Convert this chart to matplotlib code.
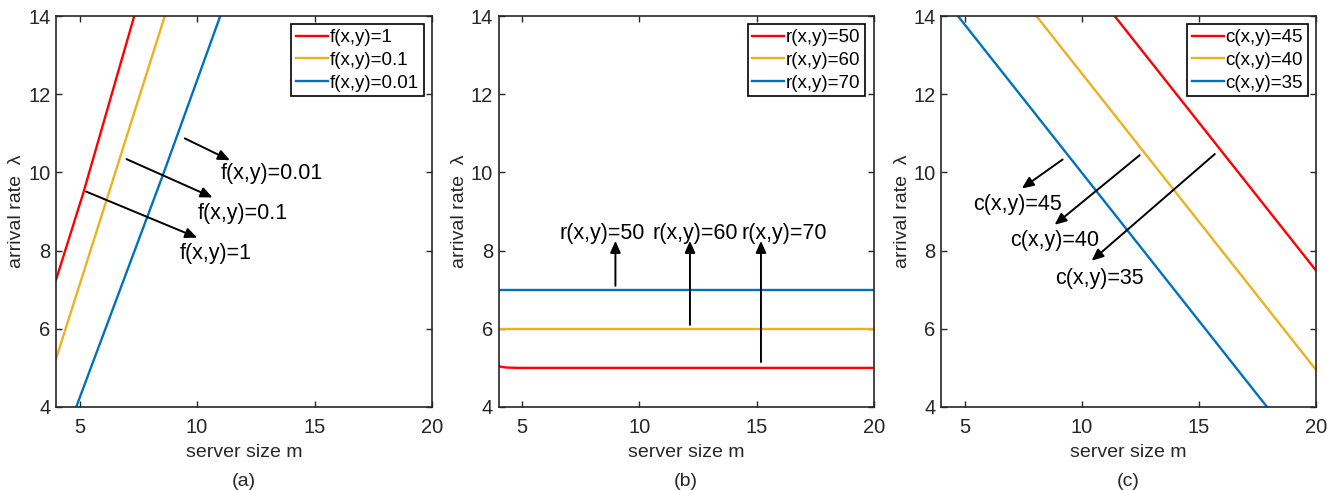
import matplotlib
matplotlib.use("Agg")
import matplotlib.pyplot as plt

plt.rcParams['font.family'] = ['Liberation Sans', 'DejaVu Sans']

# ---------------- data ----------------
# panel (a)
a_labels = ['f(x,y)=1', 'f(x,y)=0.1', 'f(x,y)=0.01']
a_x = [[4, 5.16, 7.33], [4, 6.15, 8.63], [4.86, 8.56, 10.99]]
a_y = [[7.25, 9.47, 14], [5.23, 9.29, 14], [4, 9.95, 14]]
# panel (b)
b_labels = ['r(x,y)=50', 'r(x,y)=60', 'r(x,y)=70']
b_x = [4, 4.3, 4.8, 20]
b_y = [[5.04, 5.01, 5.0, 5.0], [6, 6, 6, 6], [7, 7, 7, 7]]
# panel (c)
c_labels = ['c(x,y)=45', 'c(x,y)=40', 'c(x,y)=35']
c_x = [[11.40, 20], [8.06, 20], [4.71, 17.91]]
c_y = [[14, 7.49], [14, 4.95], [14, 4]]

# annotations: (text, text_xy, arrow_start, arrow_end)
a_notes = [('f(x,y)=0.01', (11.02, 9.96), (9.48, 10.87), (11.40, 10.31)),
           ('f(x,y)=0.1', (10.02, 8.96), (7.00, 10.34), (10.66, 9.36)),
           ('f(x,y)=1', (9.27, 7.93), (5.28, 9.51), (10.01, 8.33))]
b_notes = [('r(x,y)=50', (6.60, 8.45), (8.98, 7.10), (8.98, 8.25)),
           ('r(x,y)=60', (10.57, 8.45), (12.16, 6.10), (12.16, 8.25)),
           ('r(x,y)=70', (14.38, 8.45), (15.19, 5.15), (15.19, 8.25))]
c_notes = [('c(x,y)=45', (5.38, 9.19), (9.18, 10.33), (7.44, 9.59)),
           ('c(x,y)=40', (6.93, 8.26), (12.47, 10.44), (8.84, 8.66)),
           ('c(x,y)=35', (8.87, 7.29), (15.68, 10.47), (10.42, 7.74))]

colors = ['#FF0000', '#EDB120', '#0072BD']
xticks = [5, 10, 15, 20]
yticks = [4, 6, 8, 10, 12, 14]
captions = ['(a)', '(b)', '(c)']

fig = plt.figure(figsize=(13.38, 4.90), dpi=100)
W, H = 1338, 490
lefts = [56, 498.7, 941.3]
widths = [376, 375, 374.7]
top_px, bot_px = 16, 407
gray = '#262626'

axes = []
for i in range(3):
    ax = fig.add_axes([lefts[i] / W, 1 - bot_px / H, widths[i] / W, (bot_px - top_px) / H])
    axes.append(ax)

for k in range(3):
    axes[0].plot(a_x[k], a_y[k], color=colors[k], lw=1.7, label=a_labels[k])
    axes[1].plot(b_x, b_y[k], color=colors[k], lw=1.7, label=b_labels[k])
    axes[2].plot(c_x[k], c_y[k], color=colors[k], lw=1.7, label=c_labels[k])

for ax, notes in zip(axes, [a_notes, b_notes, c_notes]):
    for txt, txy, s, e in notes:
        ax.annotate('', xy=e, xytext=s,
                    arrowprops=dict(arrowstyle='-|>,head_length=0.5,head_width=0.22',
                                    color='k', lw=1.4,
                                    mutation_scale=14, shrinkA=0, shrinkB=0))
        ax.text(txy[0], txy[1], txt, fontsize=15.5, color='k', ha='left', va='center')

for i, ax in enumerate(axes):
    ax.set_xlim(4, 20)
    ax.set_ylim(4, 14)
    ax.set_xticks(xticks)
    ax.set_yticks(yticks)
    ax.tick_params(direction='in', length=4, width=1, colors=gray, labelsize=14.5,
                   top=True, right=True)
    ax.tick_params(axis='x', pad=8)
    ax.tick_params(axis='y', pad=4)
    for sp in ax.spines.values():
        sp.set_color(gray)
        sp.set_linewidth(1.2)
    ax.set_xlabel('server size m', fontsize=14, color=gray, labelpad=5)
    ax.set_ylabel('arrival rate  λ', fontsize=14, color=gray, labelpad=2)
    leg = ax.legend(loc='upper right', fontsize=13.5, frameon=True, fancybox=False,
                    framealpha=1, edgecolor='k', handlelength=1.7, handletextpad=0.1,
                    borderpad=0.25, labelspacing=0.3, borderaxespad=0.45)
    leg.get_frame().set_linewidth(1.2)
    cx = (lefts[i] + widths[i] / 2) / W
    fig.text(cx, 1 - 481 / H, captions[i], fontsize=14, color=gray, ha='center', va='center')

fig.savefig('out.png', dpi=100)
